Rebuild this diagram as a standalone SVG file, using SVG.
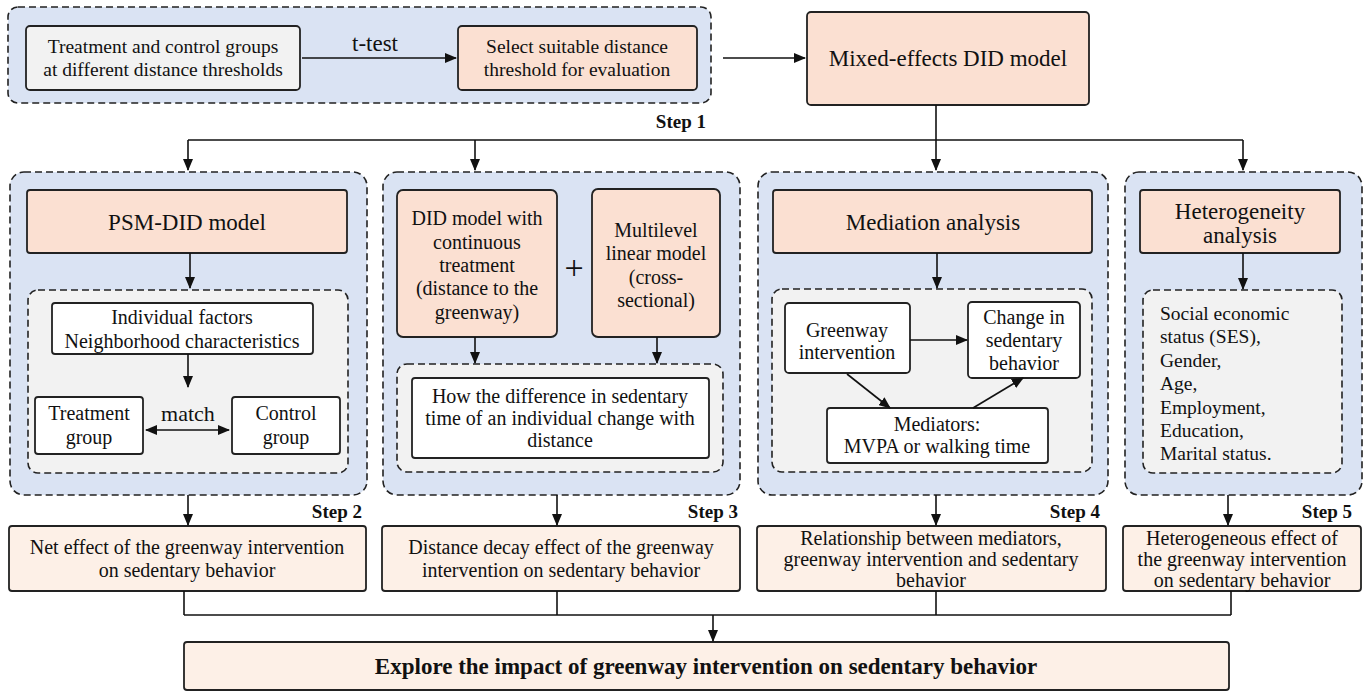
<svg xmlns="http://www.w3.org/2000/svg" width="1368" height="691" viewBox="0 0 1368 691" font-family="'Liberation Serif', 'Times New Roman', serif">
<defs>
<marker id="ah" markerUnits="userSpaceOnUse" markerWidth="12" markerHeight="10" refX="11" refY="5" orient="auto">
<path d="M0,0 L12,5 L0,10 Z" fill="#111"/>
</marker>
<marker id="ahs" markerUnits="userSpaceOnUse" markerWidth="12" markerHeight="10" refX="1" refY="5" orient="auto">
<path d="M12,0 L0,5 L12,10 Z" fill="#111"/>
</marker>
<style>
.cont{fill:#dae3f3;stroke:#222;stroke-width:1.6;stroke-dasharray:7,4}
.inner{fill:#f2f2f2;stroke:#222;stroke-width:1.6;stroke-dasharray:7,4}
.peach{fill:#fbe0d2;stroke:#222;stroke-width:1.8}
.res{fill:#fdf0e7;stroke:#222;stroke-width:1.8}
.gray{fill:#f2f2f2;stroke:#222;stroke-width:1.8}
.white{fill:#fff;stroke:#222;stroke-width:1.8}
text{fill:#111}
.t19{font-size:19.5px;text-anchor:middle}
.t20{font-size:20px;text-anchor:middle}
.t23{font-size:23px;text-anchor:middle}
.l19{font-size:19.5px}
.step{font-size:19px;font-weight:bold;text-anchor:end}
.bold{font-size:23px;font-weight:bold;text-anchor:middle}
.ln{stroke:#111;stroke-width:1.6;fill:none}
.ar{stroke:#111;stroke-width:1.6;fill:none;marker-end:url(#ah)}
</style>
</defs>
<rect width="1368" height="691" fill="#fff"/>

<!-- Step 1 -->
<g id="step1">
<rect class="cont" x="8" y="7" width="703" height="96" rx="10"/>
<text class="step" x="706" y="128">Step 1</text>
</g>
<g id="n-groups">
<rect class="gray" x="26" y="26" width="274" height="64" rx="4"/>
<text class="t19" x="163" y="53">Treatment and control groups</text>
<text class="t19" x="163" y="76">at different distance thresholds</text>
</g>
<g id="n-select">
<rect class="peach" x="458" y="26" width="239" height="64" rx="4"/>
<text class="t19" x="577" y="53">Select suitable distance</text>
<text class="t19" x="577" y="76">threshold for evaluation</text>
</g>
<g id="n-mixed">
<rect class="peach" x="807" y="12" width="282" height="93" rx="4"/>
<text class="t23" x="948" y="66">Mixed-effects DID model</text>
</g>

<!-- Step 2 -->
<g id="step2">
<rect class="cont" x="10" y="172" width="357" height="323" rx="14"/>
<rect class="inner" x="28" y="290" width="320" height="183" rx="10"/>
<text class="step" x="362" y="518">Step 2</text>
</g>
<g id="n-psm">
<rect class="peach" x="27" y="190" width="320" height="63" rx="3"/>
<text class="t23" x="187" y="230">PSM-DID model</text>
</g>
<g id="n-factors">
<rect class="white" x="52" y="303" width="261" height="51" rx="3"/>
<text class="t20" x="182" y="324">Individual factors</text>
<text class="t20" x="182" y="348">Neighborhood characteristics</text>
</g>
<g id="n-treat">
<rect class="white" x="35" y="397" width="108" height="57" rx="3"/>
<text class="t20" x="89" y="420">Treatment</text>
<text class="t20" x="89" y="444">group</text>
</g>
<g id="n-control">
<rect class="white" x="232" y="397" width="108" height="57" rx="3"/>
<text class="t20" x="286" y="420">Control</text>
<text class="t20" x="286" y="444">group</text>
</g>

<!-- Step 3 -->
<g id="step3">
<rect class="cont" x="383" y="172" width="357" height="323" rx="14"/>
<rect class="inner" x="397" y="364" width="326" height="108" rx="10"/>
<text class="step" x="738" y="518">Step 3</text>
<text x="574" y="279" style="font-size:34px;text-anchor:middle">+</text>
</g>
<g id="n-did">
<rect class="peach" x="397" y="190" width="160" height="147" rx="6"/>
<text class="t20" x="477" y="225">DID model with</text>
<text class="t20" x="477" y="249">continuous</text>
<text class="t20" x="477" y="272">treatment</text>
<text class="t20" x="477" y="295">(distance to the</text>
<text class="t20" x="477" y="319">greenway)</text>
</g>
<g id="n-multi">
<rect class="peach" x="592" y="189" width="128" height="148" rx="6"/>
<text class="t20" x="656" y="237">Multilevel</text>
<text class="t20" x="656" y="260">linear model</text>
<text class="t20" x="656" y="284">(cross-</text>
<text class="t20" x="656" y="307">sectional)</text>
</g>
<g id="n-howdiff">
<rect class="white" x="412" y="378" width="297" height="80" rx="3"/>
<text class="t20" x="560" y="403">How the difference in sedentary</text>
<text class="t20" x="560" y="425">time of an individual change with</text>
<text class="t20" x="560" y="447">distance</text>
</g>

<!-- Step 4 -->
<g id="step4">
<rect class="cont" x="758" y="172" width="350" height="323" rx="14"/>
<rect class="inner" x="772" y="289" width="320" height="183" rx="10"/>
<text class="step" x="1100" y="518">Step 4</text>
</g>
<g id="n-mediation">
<rect class="peach" x="773" y="190" width="319" height="63" rx="3"/>
<text class="t23" x="933" y="230">Mediation analysis</text>
</g>
<g id="n-greenway">
<rect class="white" x="785" y="303" width="125" height="70" rx="4"/>
<text class="t20" x="847" y="337">Greenway</text>
<text class="t20" x="847" y="359">intervention</text>
</g>
<g id="n-change">
<rect class="white" x="968" y="302" width="112" height="76" rx="4"/>
<text class="t20" x="1024" y="324">Change in</text>
<text class="t20" x="1024" y="347">sedentary</text>
<text class="t20" x="1024" y="370">behavior</text>
</g>
<g id="n-mediators">
<rect class="white" x="827" y="408" width="221" height="55" rx="3"/>
<text class="t20" x="937" y="431">Mediators:</text>
<text class="t20" x="937" y="453">MVPA or walking time</text>
</g>

<!-- Step 5 -->
<g id="step5">
<rect class="cont" x="1125" y="172" width="237" height="323" rx="14"/>
<text class="step" x="1352" y="518">Step 5</text>
</g>
<g id="n-hetero">
<rect class="peach" x="1140" y="190" width="200" height="63" rx="3"/>
<text class="t23" x="1240" y="219">Heterogeneity</text>
<text class="t23" x="1240" y="243">analysis</text>
</g>
<g id="n-factorslist">
<rect class="inner" x="1143" y="290" width="199" height="183" rx="10"/>
<text class="l19" x="1160" y="320">Social economic</text>
<text class="l19" x="1160" y="343">status (SES),</text>
<text class="l19" x="1160" y="367">Gender,</text>
<text class="l19" x="1160" y="390">Age,</text>
<text class="l19" x="1160" y="414">Employment,</text>
<text class="l19" x="1160" y="437">Education,</text>
<text class="l19" x="1160" y="460">Marital status.</text>
</g>

<!-- Results -->
<g id="n-resA">
<rect class="res" x="9" y="526" width="357" height="65" rx="3"/>
<text class="t20" x="187" y="554">Net effect of the greenway intervention</text>
<text class="t20" x="187" y="577">on sedentary behavior</text>
</g>
<g id="n-resB">
<rect class="res" x="382" y="526" width="358" height="65" rx="3"/>
<text class="t20" x="561" y="554">Distance decay effect of the greenway</text>
<text class="t20" x="561" y="577">intervention on sedentary behavior</text>
</g>
<g id="n-resC">
<rect class="res" x="757" y="526" width="349" height="65" rx="3"/>
<text class="t20" x="931" y="545">Relationship between mediators,</text>
<text class="t20" x="931" y="566">greenway intervention and sedentary</text>
<text class="t20" x="931" y="587">behavior</text>
</g>
<g id="n-resD">
<rect class="res" x="1123" y="526" width="238" height="65" rx="3"/>
<text class="t20" x="1242" y="545">Heterogeneous effect of</text>
<text class="t20" x="1242" y="566">the greenway intervention</text>
<text class="t20" x="1242" y="587">on sedentary behavior</text>
</g>
<g id="n-final">
<rect class="res" x="184" y="642" width="1045" height="48" rx="3"/>
<text class="bold" x="706" y="674">Explore the impact of greenway intervention on sedentary behavior</text>
</g>

<!-- Connectors -->
<g id="connectors">
<line class="ar" x1="302" y1="58" x2="456" y2="58"/>
<text x="375" y="51" style="font-size:23px;text-anchor:middle">t-test</text>
<line class="ar" x1="723" y1="58" x2="805" y2="58"/>
<line class="ln" x1="936" y1="105" x2="936" y2="140"/>
<line class="ln" x1="188" y1="140" x2="1243" y2="140"/>
<line class="ar" x1="188" y1="140" x2="188" y2="170"/>
<line class="ar" x1="475" y1="140" x2="475" y2="170"/>
<line class="ar" x1="936" y1="140" x2="936" y2="170"/>
<line class="ar" x1="1243" y1="140" x2="1243" y2="170"/>
<line class="ar" x1="190" y1="253" x2="190" y2="288"/>
<line class="ar" x1="188" y1="354" x2="188" y2="387"/>
<line class="ar" x1="146" y1="430" x2="229" y2="430" style="marker-start:url(#ahs)"/>
<text x="188" y="421" style="font-size:22px;text-anchor:middle">match</text>
<line class="ar" x1="475" y1="337" x2="475" y2="363"/>
<line class="ar" x1="657" y1="337" x2="657" y2="363"/>
<line class="ar" x1="937" y1="253" x2="937" y2="288"/>
<line class="ar" x1="910" y1="340" x2="967" y2="340"/>
<line class="ar" x1="847" y1="374" x2="890" y2="408"/>
<line class="ar" x1="973" y1="408" x2="1023" y2="378"/>
<line class="ar" x1="1243" y1="253" x2="1243" y2="289"/>
<line class="ar" x1="188" y1="495" x2="188" y2="525"/>
<line class="ar" x1="557" y1="495" x2="557" y2="525"/>
<line class="ar" x1="936" y1="495" x2="936" y2="525"/>
<line class="ar" x1="1228" y1="495" x2="1228" y2="525"/>
<line class="ln" x1="184" y1="591" x2="184" y2="615"/>
<line class="ln" x1="557" y1="591" x2="557" y2="615"/>
<line class="ln" x1="936" y1="591" x2="936" y2="615"/>
<line class="ln" x1="1231" y1="591" x2="1231" y2="615"/>
<line class="ln" x1="184" y1="615" x2="1231" y2="615"/>
<line class="ar" x1="713" y1="615" x2="713" y2="641"/>
</g>
</svg>
